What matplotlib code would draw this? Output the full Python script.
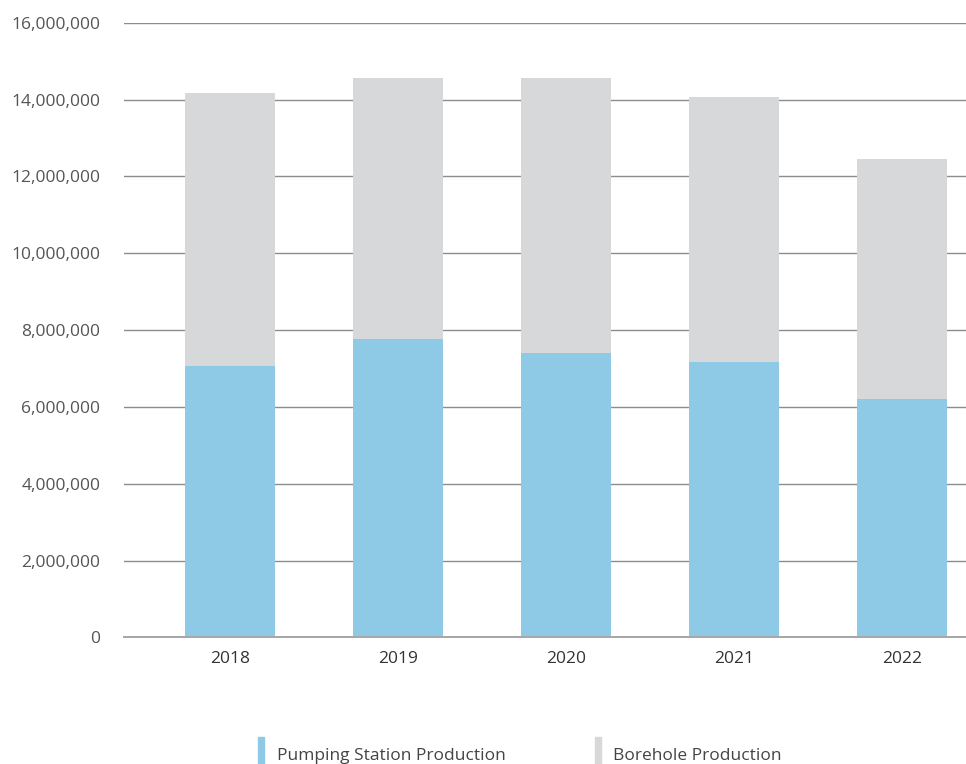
import matplotlib
matplotlib.use('Agg')
import matplotlib.pyplot as plt
from matplotlib.patches import Rectangle
from matplotlib.ticker import FuncFormatter

plt.rcParams['font.family'] = ['Open Sans', 'DejaVu Sans']

years = ['2018', '2019', '2020', '2021', '2022']
pumping_station = [7070000, 7770000, 7410000, 7170000, 6210000]
borehole = [7100000, 6800000, 7160000, 6900000, 6240000]

blue = '#8ecae6'
grey = '#d7d8da'

fig = plt.figure(figsize=(9.66, 7.64), dpi=100)
ax = fig.add_axes([0.1284, 0.1656, 0.8716, 0.8047])

x = range(len(years))
ax.bar(x, pumping_station, width=0.536, color=blue, zorder=2)
ax.bar(x, borehole, width=0.536, bottom=pumping_station, color=grey, zorder=2)

ax.set_ylim(0, 16000000)
ax.set_xlim(-0.631, 4.381)
ax.set_yticks(range(0, 16000001, 2000000))
ax.yaxis.set_major_formatter(FuncFormatter(lambda v, p: f'{int(v):,}'))
ax.set_xticks(list(x))
ax.set_xticklabels(years)

ax.grid(axis='y', color='#8c8c8c', linewidth=1.0, zorder=1)
ax.axhline(0, color='#a6a6a6', linewidth=1.4, zorder=3, clip_on=False)
for s in ax.spines.values():
    s.set_visible(False)
ax.tick_params(axis='y', length=0, pad=17, labelsize=12.5, labelcolor='#555555')
ax.tick_params(axis='x', length=0, pad=10, labelsize=12.5, labelcolor='#333333')

# legend along the bottom edge
legend_items = [(blue, 'Pumping Station Production', 258, 277),
                (grey, 'Borehole Production', 595, 613)]
for color, label, px, tx in legend_items:
    fig.patches.append(Rectangle((px / 966, 0), 6 / 966, 27 / 764,
                                 transform=fig.transFigure, color=color))
    fig.text(tx / 966, 1 - 756 / 764, label, fontsize=12.5, color='#444444',
             va='center', ha='left')

fig.savefig('out.png', dpi=100)
